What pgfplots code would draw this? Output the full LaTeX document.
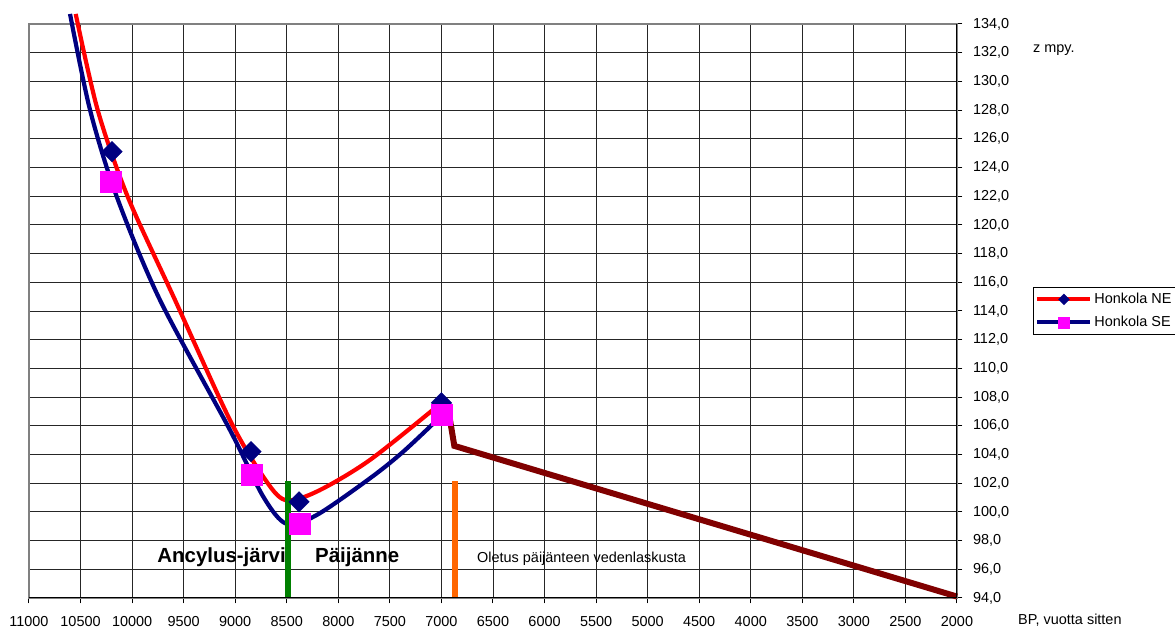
\documentclass[border=0pt]{standalone}
\usepackage{pgfplots}
\pgfplotsset{compat=1.18}
\usepackage{fontspec}
\setmainfont{Liberation Sans}
\usetikzlibrary{calc}
\definecolor{cNavy}{RGB}{0,0,128}
\definecolor{cMag}{RGB}{255,0,255}
\definecolor{cBrown}{RGB}{128,0,0}
\definecolor{cGreen}{RGB}{0,128,0}
\definecolor{cOrange}{RGB}{255,102,0}
\begin{document}
\begin{tikzpicture}
\begin{axis}[
  name=ax,
  scale only axis, width=928bp, height=574bp,
  x dir=reverse,
  xmin=2000, xmax=11000, ymin=94, ymax=134,
  xtick={2000,2500,...,11000}, ytick={94,96,...,134},
  scaled ticks=false,
  clip=false,
  grid=major, major grid style={black!85, line width=0.9bp},
  axis line style={black!50, line width=1.5bp},
  tick align=outside, xtick pos=left, ytick pos=right,
  xticklabel pos=left, yticklabel pos=right,
  major tick length=5.5bp,
  tick style={black, line width=1bp},
  every tick label/.append style={font=\fontsize{14.5}{17}\selectfont},
  /pgf/number format/assume math mode=true,
  xticklabel style={yshift=-9bp, /pgf/number format/.cd, fixed, 1000 sep={}},
  yticklabel style={xshift=7bp, /pgf/number format/.cd, fixed, fixed zerofill, precision=1, use comma},
  legend style={at={(1.0819,0.5418)}, anchor=north west, draw=black, line width=1bp,
    font=\fontsize{14.5}{17}\selectfont, inner xsep=2bp, inner ysep=4bp, row sep=7bp},
  legend cell align=left,
  legend image code/.code={\draw[mark repeat=2,mark phase=2,#1] plot coordinates {(0bp,0bp) (26.5bp,0bp) (53bp,0bp)};},
]
% legend images
\addlegendimage{red, line width=4bp, mark=square*, mark size=3.9bp, mark options={rotate=45, fill=cNavy, draw=cNavy, line width=0.3bp}}
\addlegendentry{Honkola NE}
\addlegendimage{cNavy, line width=4bp, mark=square*, mark size=5.5bp, mark options={fill=cMag, draw=cMag, line width=0.3bp}}
\addlegendentry{Honkola SE}

% Honkola NE (smoothed curve)
\addplot[red, line width=4.2bp, smooth, mark=none, forget plot] coordinates {
  (10547,134.70) (10334,128.01) (10043,121.97) (9584,114.77) (9051,106.40)
  (8728,102.45) (8517,100.83) (8210,101.41) (7693,103.62) (7000,107.60)};
\addplot[only marks, mark=square*, mark size=7.3bp, mark options={rotate=45, fill=cNavy, draw=cNavy, line width=0.3bp}, forget plot] coordinates {
  (10195,125.1) (8847,104.2) (8381,100.7) (7000,107.6)};
% Honkola SE
\addplot[cNavy, line width=4.2bp, smooth, mark=none, forget plot] coordinates {
  (10602,134.70) (10408,128.01) (10149,121.97) (9730,114.77) (9051,105.71)
  (8728,101.06) (8501,99.16) (8210,99.78) (7693,102.34) (7370,104.20) (7000,106.70)};
\addplot[only marks, mark=square*, mark size=10.5bp, mark options={fill=cMag, draw=cMag, line width=0.3bp}, forget plot] coordinates {
  (10205,123.0) (8840,102.6) (8372,99.2) (7000,106.8)};
% assumed drainage line
\addplot[cBrown, line width=6bp, forget plot] coordinates {(6935,107.2) (6875,104.6) (2000,94.1)};
% vertical markers
\addplot[cGreen, line width=5.5bp, forget plot] coordinates {(8490,94.1) (8490,102.15)};
\addplot[cOrange, line width=5.5bp, forget plot] coordinates {(6868,94.1) (6868,102.15)};

\draw[black, line width=1bp] (axis cs:11000,94) -- (axis cs:2000,94) -- (axis cs:2000,134);

\node[anchor=base east, inner sep=0, font=\bfseries\fontsize{20.5}{24}\selectfont] at (axis cs:8508,96.45) {Ancylus-järvi};
\node[anchor=base west, inner sep=0, font=\bfseries\fontsize{20.5}{24}\selectfont] at (axis cs:8226,96.45) {Päijänne};
\node[anchor=base west, inner sep=0, font=\fontsize{14.5}{17}\selectfont] at (axis cs:6655,96.45) {Oletus päijänteen vedenlaskusta};
\node[anchor=base west, inner sep=0, font=\fontsize{14.5}{17}\selectfont] at (axis cs:1263,132.0) {z mpy.};
\node[anchor=base west, inner sep=0, font=\fontsize{14.5}{17}\selectfont] at (axis cs:1408,92.17) {BP, vuotta sitten};
\end{axis}
\pgfresetboundingbox
\path ($(ax.south west)+(-29bp,-30bp)$) rectangle ($(ax.north east)+(218bp,24bp)$);
\end{tikzpicture}
\end{document}
